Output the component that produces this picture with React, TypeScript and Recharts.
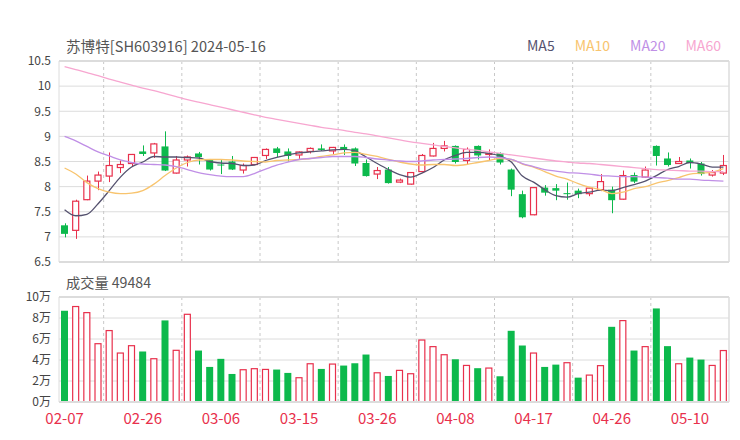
import { ComposedChart, Bar, Line, XAxis, YAxis, CartesianGrid, ReferenceLine } from 'recharts';

const dates = [
  '02-07', '02-08', '02-19', '02-20', '02-21', '02-22', '02-23',
  '02-26', '02-27', '02-28', '02-29', '03-01', '03-04', '03-05',
  '03-06', '03-07', '03-08', '03-11', '03-12', '03-13', '03-14',
  '03-15', '03-18', '03-19', '03-20', '03-21', '03-22', '03-25',
  '03-26', '03-27', '03-28', '03-29', '04-01', '04-02', '04-03',
  '04-08', '04-09', '04-10', '04-11', '04-12', '04-15', '04-16',
  '04-17', '04-18', '04-19', '04-22', '04-23', '04-24', '04-25',
  '04-26', '04-29', '04-30', '05-06', '05-07', '05-08', '05-09',
  '05-10', '05-13', '05-14', '05-15',
];

const opens = [
  7.23, 7.13, 7.74, 8.11, 8.21, 8.38, 8.46, 8.7, 8.67, 8.8,
  8.27, 8.53, 8.66, 8.54, 8.44, 8.5, 8.33, 8.44, 8.62, 8.76,
  8.7, 8.63, 8.7, 8.76, 8.71, 8.79, 8.76, 8.47, 8.25, 8.34,
  8.09, 8.05, 8.3, 8.61, 8.76, 8.81, 8.52, 8.81, 8.64, 8.67,
  8.34, 7.85, 7.44, 7.98, 7.97, 7.87, 7.92, 7.86, 7.94, 7.94,
  7.75, 8.23, 8.19, 8.81, 8.56, 8.46, 8.52, 8.46, 8.23, 8.27,
];

const highs = [
  7.27, 7.74, 8.22, 8.3, 8.68, 8.52, 8.65, 8.82, 8.87, 9.1,
  8.61, 8.62, 8.69, 8.55, 8.53, 8.61, 8.46, 8.59, 8.76, 8.79,
  8.76, 8.7, 8.78, 8.84, 8.79, 8.84, 8.78, 8.54, 8.39, 8.39,
  8.16, 8.29, 8.65, 8.87, 8.91, 8.82, 8.78, 8.82, 8.74, 8.68,
  8.36, 7.92, 7.99, 8.03, 8.05, 8.08, 7.96, 7.98, 8.25, 8.0,
  8.32, 8.28, 8.4, 8.82, 8.68, 8.59, 8.56, 8.49, 8.33, 8.63,
];

const lows = [
  6.99, 6.96, 7.73, 7.93, 8.09, 8.27, 8.39, 8.61, 8.57, 8.31,
  8.26, 8.4, 8.44, 8.32, 8.25, 8.33, 8.26, 8.43, 8.55, 8.59,
  8.5, 8.55, 8.66, 8.71, 8.65, 8.63, 8.41, 8.2, 8.15, 8.06,
  8.07, 8.04, 8.29, 8.6, 8.7, 8.46, 8.44, 8.54, 8.52, 8.44,
  7.81, 7.37, 7.43, 7.82, 7.73, 7.74, 7.77, 7.81, 7.91, 7.47,
  7.74, 8.07, 8.18, 8.42, 8.4, 8.45, 8.36, 8.22, 8.2, 8.23,
];

const closes = [
  7.06, 7.71, 8.11, 8.23, 8.42, 8.44, 8.64, 8.65, 8.85, 8.32,
  8.53, 8.59, 8.59, 8.34, 8.42, 8.34, 8.42, 8.58, 8.74, 8.67,
  8.61, 8.69, 8.76, 8.73, 8.78, 8.74, 8.46, 8.21, 8.32, 8.07,
  8.13, 8.28, 8.62, 8.76, 8.81, 8.49, 8.74, 8.62, 8.66, 8.48,
  7.94, 7.39, 7.98, 7.88, 7.92, 7.87, 7.85, 7.97, 8.1, 7.73,
  8.22, 8.1, 8.33, 8.61, 8.43, 8.5, 8.47, 8.25, 8.28, 8.42,
];

const ma5 = [
  7.54, 7.42, 7.45, 7.66, 7.92, 8.19, 8.39, 8.49, 8.6, 8.59,
  8.59, 8.58, 8.57, 8.5, 8.47, 8.46, 8.42, 8.43, 8.52, 8.58,
  8.63, 8.67, 8.69, 8.71, 8.73, 8.74, 8.71, 8.59, 8.46, 8.34,
  8.24, 8.19, 8.27, 8.38, 8.53, 8.62, 8.68, 8.68, 8.66, 8.61,
  8.49, 8.21, 8.09, 7.94, 7.82, 7.79, 7.86, 7.89, 7.93, 7.92,
  7.98, 8.04, 8.11, 8.22, 8.34, 8.4, 8.48, 8.45, 8.39, 8.39,
];

const ma10 = [
  8.37, 8.25, 8.08, 7.96, 7.89, 7.86, 7.87, 7.92, 8.05, 8.22,
  8.37, 8.48, 8.53, 8.54, 8.54, 8.53, 8.51, 8.5, 8.49, 8.52,
  8.53, 8.54, 8.56, 8.6, 8.63, 8.67, 8.68, 8.64, 8.6, 8.54,
  8.49, 8.45, 8.43, 8.44, 8.44, 8.42, 8.44, 8.48, 8.52, 8.56,
  8.54, 8.45, 8.39, 8.3, 8.21, 8.15, 8.06, 7.99, 7.94, 7.86,
  7.89, 7.96, 8.0, 8.07, 8.12, 8.18, 8.25, 8.27, 8.29, 8.36,
];

const ma20 = [
  9.0, 8.91, 8.8, 8.69, 8.61, 8.53, 8.48, 8.45, 8.44, 8.43,
  8.4, 8.34, 8.28, 8.24, 8.21, 8.2, 8.2, 8.26, 8.35, 8.43,
  8.49, 8.54, 8.56, 8.58, 8.6, 8.6, 8.6, 8.58, 8.55, 8.53,
  8.51, 8.5, 8.51, 8.53, 8.54, 8.55, 8.56, 8.58, 8.59, 8.58,
  8.54, 8.46, 8.4, 8.34, 8.31, 8.28, 8.27, 8.25, 8.22, 8.21,
  8.2, 8.2, 8.19, 8.18, 8.17, 8.15, 8.15, 8.13, 8.12, 8.11,
];

const ma60 = [
  10.39, 10.33, 10.27, 10.21, 10.14, 10.08, 10.02, 9.96, 9.91, 9.85,
  9.79, 9.73, 9.68, 9.63, 9.58, 9.53, 9.48, 9.43, 9.38, 9.34,
  9.3, 9.26, 9.22, 9.18, 9.15, 9.12, 9.08, 9.05, 9.01, 8.97,
  8.93, 8.89, 8.86, 8.83, 8.8, 8.77, 8.74, 8.72, 8.69, 8.66,
  8.63, 8.6, 8.57, 8.54, 8.51, 8.49, 8.47, 8.46, 8.44, 8.42,
  8.4, 8.38, 8.36, 8.34, 8.33, 8.32, 8.31, 8.31, 8.3, 8.3,
];

const volumes = [
  86900, 91400, 85600, 56000, 68500, 47100, 54100, 48100, 41700, 77700,
  49700, 84000, 49000, 33400, 41100, 26700, 31200, 32200, 31500, 30900,
  27700, 23600, 36900, 31500, 36600, 34700, 36900, 45200, 28300, 24800,
  30600, 27400, 59500, 53200, 45500, 40700, 35300, 32200, 32800, 24500,
  67800, 53800, 47100, 33400, 35600, 37900, 23200, 26100, 35100, 71600,
  78000, 49000, 53200, 89100, 53200, 36900, 42300, 40400, 35300, 49484,
];

const priceTicks = [6.5, 7, 7.5, 8, 8.5, 9, 9.5, 10, 10.5];
const volumeTicks = [0, 20000, 40000, 60000, 80000, 100000];
const dateTicks = ['02-07', '02-26', '03-06', '03-15', '03-26', '04-08', '04-17', '04-26', '05-10'];
const dividers = [3.5, 10.5, 17.5, 24.5, 31.5, 38.5, 45.5, 52.5];

const UP = '#e8304c';
const DOWN = '#0cb94c';
const GRID = '#dcdcdc';
const FONT = '"Noto Sans CJK SC", "Noto Sans", sans-serif';

const maSeries = [
  { key: 'ma5', name: 'MA5', color: '#55526f' },
  { key: 'ma10', name: 'MA10', color: '#f8c46e' },
  { key: 'ma20', name: 'MA20', color: '#c08fe6' },
  { key: 'ma60', name: 'MA60', color: '#f7a6d0' },
];

const rows = dates.map((date, i) => ({
  idx: i,
  date,
  open: opens[i],
  high: highs[i],
  low: lows[i],
  close: closes[i],
  range: [lows[i], highs[i]],
  ma5: ma5[i],
  ma10: ma10[i],
  ma20: ma20[i],
  ma60: ma60[i],
  vol: volumes[i],
}));

// candle: range bar [low, high], body placed inside it
function Candle(props: any) {
  const { x, y, width, height, payload } = props;
  const { open, close, high, low } = payload;
  const top = Math.min(y, y + height);
  const h = Math.abs(height);
  const k = high === low ? 0 : h / (high - low);
  const yOf = (v: number) => top + (high - v) * k;
  const up = close > open;
  const color = up ? UP : DOWN;
  const cx = Math.round(x + width / 2) + 0.5;
  const bodyTop = yOf(Math.max(open, close));
  const bodyH = Math.max(1, yOf(Math.min(open, close)) - bodyTop);
  return (
    <g>
      <line x1={cx} x2={cx} y1={top} y2={top + h} stroke={color} strokeWidth={1} />
      {up ? (
        <rect x={x + 0.5} y={bodyTop} width={width - 1} height={bodyH} fill="#fff" stroke={color} strokeWidth={1.2} />
      ) : (
        <rect x={x} y={bodyTop} width={width} height={bodyH} fill={color} />
      )}
    </g>
  );
}

function VolumeBar(props: any) {
  const { x, y, width, height, payload } = props;
  if (payload.close >= payload.open) {
    return <rect x={x + 0.5} y={y + 0.5} width={width - 1} height={Math.max(0, height - 0.5)} fill="#fff" stroke={UP} strokeWidth={1.2} />;
  }
  return <rect x={x} y={y} width={width} height={height} fill={DOWN} />;
}

const tickStyle = { fill: '#444', fontSize: 12, fontFamily: FONT };

export default function App() {
  const last = volumes[volumes.length - 1];
  return (
    <div style={{ position: 'absolute', left: 0, top: 0, width: 740, height: 440, background: '#fff', fontFamily: FONT }}>
      <div style={{ position: 'absolute', left: 66, top: 37, fontSize: 14.6, lineHeight: '17px', color: '#555' }}>
        苏博特[SH603916] 2024-05-16
      </div>
      <div style={{ position: 'absolute', left: 527, top: 37, fontSize: 14, lineHeight: '17px', display: 'flex' }}>
        {maSeries.map((s) => (
          <span key={s.key} style={{ color: s.color, marginRight: 20 }}>{s.name}</span>
        ))}
      </div>

      <div style={{ position: 'absolute', left: 0, top: 0 }}>
        <ComposedChart width={740} height={270} data={rows} margin={{ top: 61, right: 11, bottom: 8, left: 0 }}>
          <CartesianGrid vertical={false} stroke={GRID} />
          <XAxis dataKey="date" hide />
          <XAxis xAxisId="n" type="number" dataKey="idx" domain={[-0.5, 59.5]} hide allowDataOverflow />
          <YAxis
            domain={[6.5, 10.5]}
            ticks={priceTicks}
            interval={0}
            width={59}
            tickLine={false}
            axisLine={{ stroke: GRID }}
            tick={tickStyle}
            allowDataOverflow
          />
          {dividers.map((d) => (
            <ReferenceLine key={d} xAxisId="n" x={d} stroke="#c8c8c8" strokeDasharray="3 3" />
          ))}
          <ReferenceLine xAxisId="n" x={59.5} stroke={GRID} strokeWidth={1.5} ifOverflow="visible" />
          <ReferenceLine y={10.5} stroke={GRID} strokeWidth={2} ifOverflow="visible" />
          <ReferenceLine y={6.5} stroke={GRID} strokeWidth={2} ifOverflow="visible" />
          <Bar dataKey="range" barSize={7} shape={<Candle />} isAnimationActive={false} />
          {maSeries.map((s) => (
            <Line
              key={s.key}
              dataKey={s.key}
              type="monotone"
              stroke={s.color}
              strokeWidth={1.3}
              dot={false}
              activeDot={false}
              isAnimationActive={false}
            />
          ))}
        </ComposedChart>
      </div>

      <div style={{ position: 'absolute', left: 66, top: 274, fontSize: 14.2, lineHeight: '17px', color: '#555' }}>
        成交量 {last}
      </div>

      <div style={{ position: 'absolute', left: 0, top: 270 }}>
        <ComposedChart width={740} height={170} data={rows} margin={{ top: 27, right: 11, bottom: 8, left: 0 }}>
          <CartesianGrid vertical={false} stroke={GRID} />
          <XAxis
            dataKey="date"
            ticks={dateTicks}
            interval={0}
            height={30}
            tickLine={false}
            axisLine={false}
            dy={3}
            tick={{ fill: UP, fontSize: 15, fontFamily: FONT }}
          />
          <XAxis xAxisId="n" type="number" dataKey="idx" domain={[-0.5, 59.5]} hide allowDataOverflow />
          <YAxis
            domain={[0, 100000]}
            ticks={volumeTicks}
            interval={0}
            width={59}
            tickLine={false}
            axisLine={{ stroke: GRID }}
            tick={tickStyle}
            tickFormatter={(v: number) => `${v / 10000}万`}
            allowDataOverflow
          />
          {dividers.map((d) => (
            <ReferenceLine key={d} xAxisId="n" x={d} stroke="#c8c8c8" strokeDasharray="3 3" />
          ))}
          <ReferenceLine xAxisId="n" x={59.5} stroke={GRID} strokeWidth={1.5} ifOverflow="visible" />
          <ReferenceLine y={100000} stroke={GRID} strokeWidth={2} ifOverflow="visible" />
          <ReferenceLine y={0} stroke={GRID} strokeWidth={2} ifOverflow="visible" />
          <Bar dataKey="vol" barSize={7} shape={<VolumeBar />} isAnimationActive={false} />
        </ComposedChart>
      </div>
    </div>
  );
}
